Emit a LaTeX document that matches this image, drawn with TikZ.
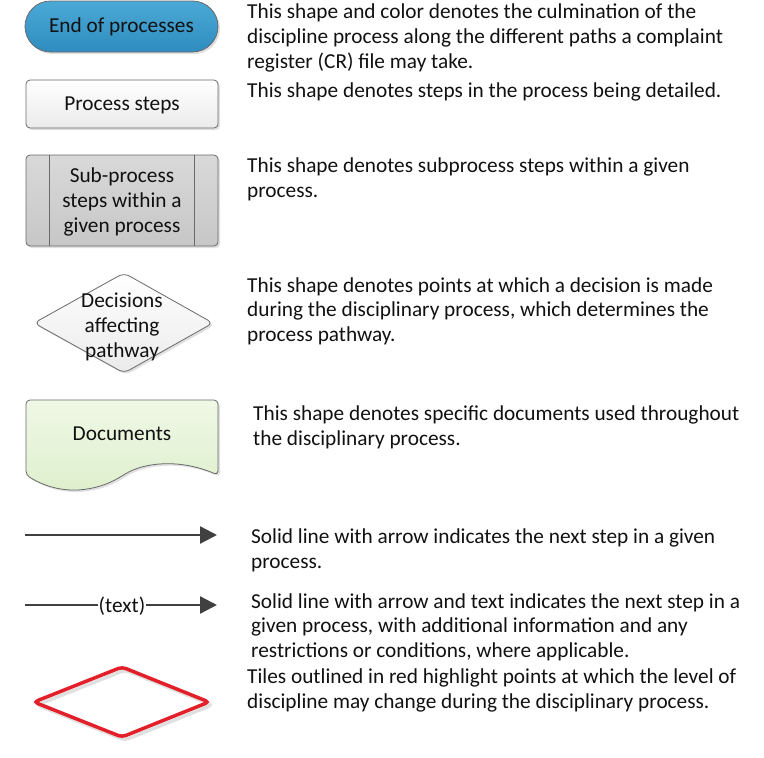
\documentclass[tikz,border=0pt]{standalone}
\usepackage{fontspec}
\setmainfont{Carlito}
\usetikzlibrary{arrows.meta,shapes.misc,shapes.geometric}
\definecolor{txt}{HTML}{111111}
\definecolor{edge}{HTML}{6A6A6A}
\definecolor{arrowc}{HTML}{404040}
\definecolor{redc}{HTML}{E3202A}
\definecolor{blueT}{HTML}{4BA9D6}
\definecolor{blueB}{HTML}{2F8CBF}
\definecolor{greenT}{HTML}{EFF8E6}
\definecolor{greenB}{HTML}{DDEFCB}
\tikzset{
  desc/.style={anchor=base west, align=left, inner sep=0pt, text=txt,
    font=\fontsize{21.3}{24.7}\selectfont},
  lbl/.style={anchor=base, inner sep=0pt, text=txt, align=center,
    font=\fontsize{21.3}{25}\selectfont},
  shapeline/.style={draw=edge, line width=0.8pt},
  shadowfill/.style={fill=black!12, draw=none},
  flowarrow/.style={draw=arrowc, line width=2.4pt, -{Triangle[length=17pt,width=17pt]}},
  flowline/.style={draw=arrowc, line width=2.4pt},
}
\begin{document}
\begin{tikzpicture}[x=1pt,y=-1pt]
\useasboundingbox (0,0) rectangle (764,758);

% ---- End of processes (terminator)
\fill[shadowfill, rounded corners=25.5pt] (27,3) rectangle (220,54);
\path[shapeline, top color=blueT, bottom color=blueB, rounded corners=25.5pt] (25,1) rectangle (218,52);
\node[lbl] (endp) at (121.5,32) {End of processes};

% ---- Process steps
\fill[shadowfill, rounded corners=4pt] (28,82) rectangle (220,130);
\path[shapeline, top color=white, bottom color=black!8, rounded corners=4pt] (26,80) rectangle (218,128);
\node[lbl] (procstep) at (122,110) {Process steps};

% ---- Sub-process
\fill[shadowfill, rounded corners=4pt] (28,157) rectangle (220,248);
\path[shapeline, top color=black!15, bottom color=black!22, rounded corners=4pt] (26,155) rectangle (218,246);
\draw[edge, line width=0.8pt] (49,155) -- (49,246) (194,155) -- (194,246);
\node[lbl] (subproc) at (122,232) {Sub-process\\steps within a\\given process};

% ---- Decision diamond
\fill[shadowfill, rounded corners=6pt] (36,325) -- (126,275) -- (215,325) -- (126,375) -- cycle;
\path[shapeline, top color=white, bottom color=black!8, rounded corners=6pt] (34,323) -- (124,273) -- (213,323) -- (124,373) -- cycle;
\node[lbl] (decis) at (122,357) {Decisions\\affecting\\pathway};

% ---- Document
\fill[shadowfill, rounded corners=4pt] (28,402) -- (220,402) -- (220,477)
   .. controls (180,460) and (145,465) .. (124,478)
   .. controls (100,492) and (65,500) .. (28,477) -- cycle;
\path[shapeline, top color=greenT, bottom color=greenB, rounded corners=4pt] (26,400) -- (218,400) -- (218,475)
   .. controls (178,458) and (143,463) .. (122,476)
   .. controls (98,490) and (63,498) .. (26,475) -- cycle;
\node[lbl] (docs) at (122,440) {Documents};

% ---- Solid arrow
\coordinate (a1s) at (25,535);
\coordinate (a1e) at (217,535);
\draw[flowarrow] (a1s) -- (a1e);

% ---- Arrow with text
\coordinate (a2s) at (25,605);
\coordinate (a2e) at (217,605);
\node[lbl, inner xsep=1pt] (txtlbl) at (122,612) {(text)};
\draw[flowline] (a2s) -- (txtlbl.west |- a2s);
\draw[flowarrow] (txtlbl.east |- a2e) -- (a2e);

% ---- Red diamond
\draw[black!12, line width=3.5pt, rounded corners=4pt] (37,705) -- (125,670) -- (212,705) -- (125,740) -- cycle;
\draw[redc, line width=3.5pt, rounded corners=4pt] (34,702) -- (122,667) -- (209,702) -- (122,737) -- cycle;

% ---- Descriptions (anchor = baseline of last line)
\node[desc] (d1) at (247,68) {This shape and color denotes the culmination of the\\discipline process along the different paths a complaint\\register (CR) file may take.};
\node[desc] (d2) at (247,97) {This shape denotes steps in the process being detailed.};
\node[desc] (d3) at (247,197.5) {This shape denotes subprocess steps within a given\\process.};
\node[desc] (d4) at (247,341.5) {This shape denotes points at which a decision is made\\during the disciplinary process, which determines the\\process pathway.};
\node[desc] (d5) at (253,445) {This shape denotes specific documents used throughout\\the disciplinary process.};
\node[desc] (d6) at (251,568) {Solid line with arrow indicates the next step in a given\\process.};
\node[desc] (d7) at (251,657.5) {Solid line with arrow and text indicates the next step in a\\given process, with additional information and any\\restrictions or conditions, where applicable.};
\node[desc] (d8) at (247,708) {Tiles outlined in red highlight points at which the level of\\discipline may change during the disciplinary process.};
\end{tikzpicture}
\end{document}
